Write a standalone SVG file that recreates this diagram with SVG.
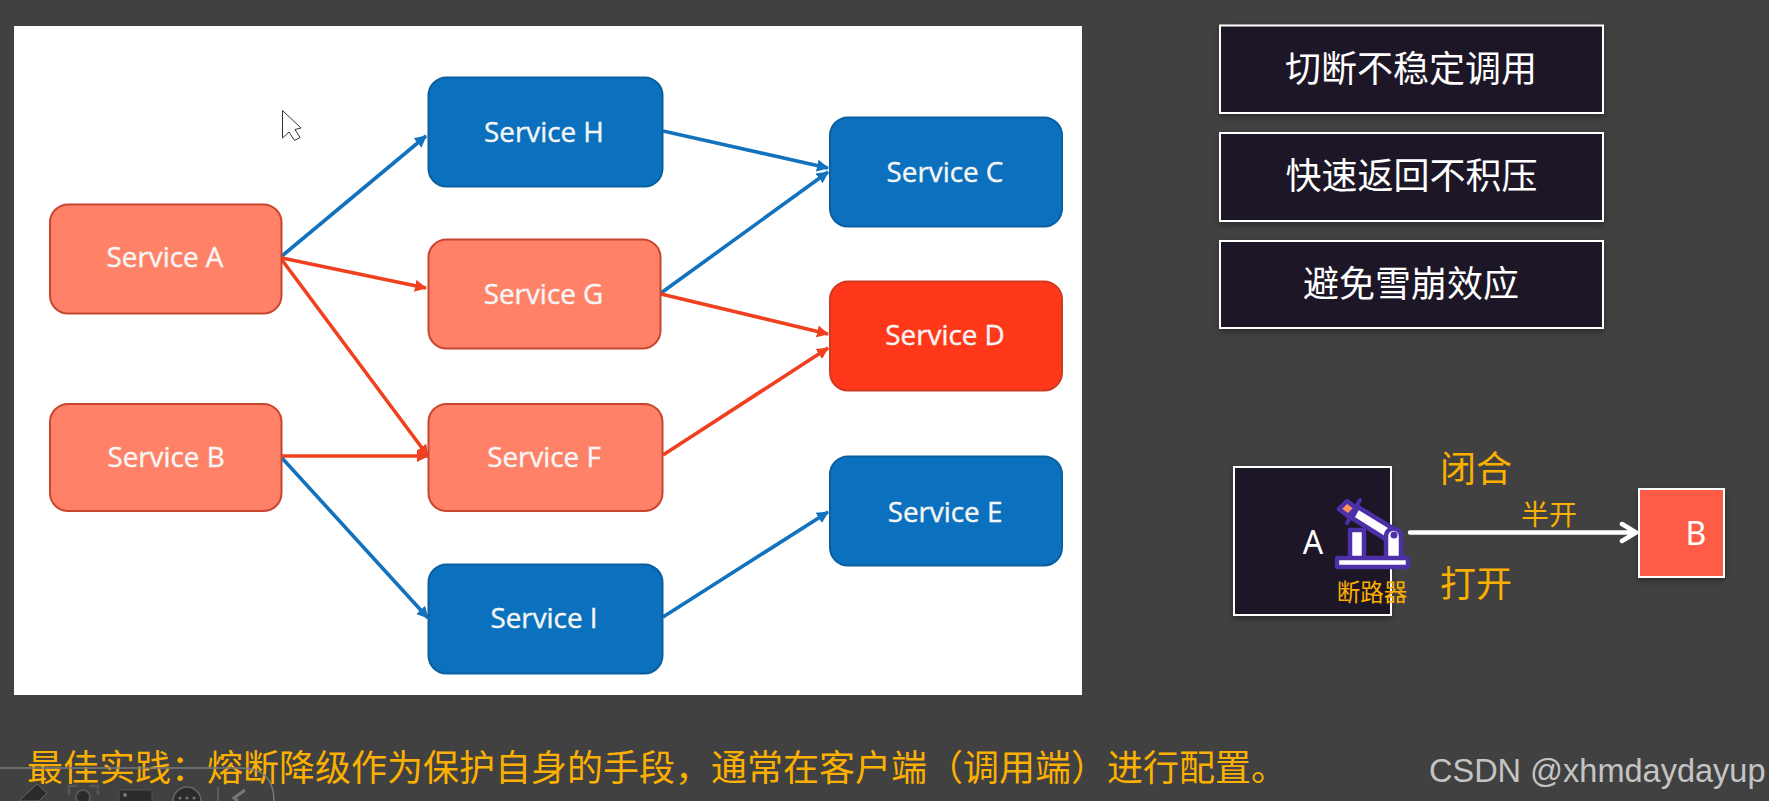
<svg xmlns="http://www.w3.org/2000/svg" width="1769" height="801" viewBox="0 0 1769 801">
<style>
.n{stroke-width:2}
.o{fill:#ff8268;stroke:#c8452f}
.b{fill:#0b70bd;stroke:#0a5f9f}
.r{fill:#ff3819;stroke:#cf3a20}
.s{font:500 27.800px "Open Sans","Noto Sans",sans-serif;fill:#f6f6f6;stroke:#f6f6f6;stroke-width:.4;text-anchor:middle}
.e{fill:none;stroke-width:3.600}
.eb{stroke:#1272bd}
.er{stroke:#f0401f}
.c{font-family:"Noto Sans CJK SC","Liberation Sans",sans-serif;text-anchor:middle}
.w{font-size:36px;fill:#fff}
.y{fill:#fbb000}
.box{fill:#1e1228;stroke:#fff;stroke-width:2}
.l{font-family:"Noto Sans",sans-serif;font-size:32px;fill:#fff;text-anchor:middle}
.i{fill:#fff;stroke:#4d2fa8;stroke-width:4.500;stroke-linejoin:round}
</style>
<defs>
<marker id="ab" markerUnits="userSpaceOnUse" markerWidth="14" markerHeight="14" refX="11" refY="6" orient="auto"><path d="M0 0L12 6L0 12z" fill="#1272bd"/></marker>
<marker id="ar" markerUnits="userSpaceOnUse" markerWidth="14" markerHeight="14" refX="11" refY="6" orient="auto"><path d="M0 0L12 6L0 12z" fill="#f0401f"/></marker>
<filter id="sh" x="-10%" y="-10%" width="120%" height="125%"><feDropShadow dx="0" dy="3" stdDeviation="3" flood-color="#000" flood-opacity=".35"/></filter>
</defs>
<rect width="1769" height="801" fill="#414141"/>
<rect x="14" y="26" width="1068" height="669" fill="#fff"/>
<path d="M282.500 110.500V138L289 132L294.500 140.500L300 137.500L295 129.500L301 128z" fill="#fff" stroke="#333" stroke-width="1"/>
<g id="connectors">
<path class="e eb" marker-end="url(#ab)" d="M282 256L426 136"/>
<path class="e er" marker-end="url(#ar)" d="M282 258L426 288"/>
<path class="e er" marker-end="url(#ar)" d="M282 260L428 456"/>
<path class="e er" marker-end="url(#ar)" d="M282 456L428 456"/>
<path class="e eb" marker-end="url(#ab)" d="M282 458L428 618"/>
<path class="e eb" marker-end="url(#ab)" d="M663 131L828 168"/>
<path class="e eb" marker-end="url(#ab)" d="M661 293L828 172"/>
<path class="e er" marker-end="url(#ar)" d="M661 294L828 334"/>
<path class="e er" marker-end="url(#ar)" d="M663 455L828 348"/>
<path class="e eb" marker-end="url(#ab)" d="M663 617L828 512"/>
</g>
<g id="service-a"><rect class="n o" x="50" y="204.500" width="231.500" height="109" rx="18"/><text class="s" x="165" y="267">Service A</text></g>
<g id="service-b"><rect class="n o" x="50" y="404" width="231.500" height="107" rx="18"/><text class="s" x="166" y="467">Service B</text></g>
<g id="service-h"><rect class="n b" x="428.500" y="77.500" width="234" height="109" rx="18"/><text class="s" x="544" y="142">Service H</text></g>
<g id="service-g"><rect class="n o" x="428.500" y="239.500" width="232" height="109" rx="18"/><text class="s" x="543.500" y="304">Service G</text></g>
<g id="service-f"><rect class="n o" x="428.500" y="404" width="234" height="107" rx="18"/><text class="s" x="544" y="467">Service F</text></g>
<g id="service-i"><rect class="n b" x="428.500" y="564.500" width="234" height="109" rx="18"/><text class="s" x="544" y="628">Service I</text></g>
<g id="service-c"><rect class="n b" x="830" y="117.500" width="232" height="109" rx="18"/><text class="s" x="945" y="182">Service C</text></g>
<g id="service-d"><rect class="n r" x="830" y="281.500" width="232" height="109" rx="18"/><text class="s" x="945" y="345">Service D</text></g>
<g id="service-e"><rect class="n b" x="830" y="456.500" width="232" height="109" rx="18"/><text class="s" x="945" y="522">Service E</text></g>
<g id="box1"><rect class="box" filter="url(#sh)" x="1220" y="25.500" width="383" height="87.500"/><text class="c w" x="1411" y="82">切断不稳定调用</text></g>
<g id="box2"><rect class="box" filter="url(#sh)" x="1220" y="133" width="383" height="88"/><text class="c w" x="1411.500" y="189">快速返回不积压</text></g>
<g id="box3"><rect class="box" filter="url(#sh)" x="1220" y="241" width="383" height="87"/><text class="c w" x="1411" y="297">避免雪崩效应</text></g>
<g id="node-a"><rect class="box" filter="url(#sh)" x="1234" y="467" width="157" height="148"/><text class="l" x="1313" y="554">A</text></g>
<g id="node-b"><rect filter="url(#sh)" x="1639" y="489" width="85" height="88" fill="#ff5c47" stroke="#fff" stroke-width="2"/><text class="l" x="1696" y="545">B</text></g>
<g id="breaker">
<path class="i" d="M1358 507L1394 529L1387 540L1352 518z"/>
<path d="M1360 500L1347 523" stroke="#4d2fa8" stroke-width="4" stroke-linecap="round"/>
<path d="M1347 501L1356 508L1348 516L1339 509z" fill="#ff9160" stroke="#4d2fa8" stroke-width="4.500" stroke-linejoin="round"/>
<rect class="i" x="1350" y="530" width="14" height="29"/>
<path class="i" d="M1386 559V536a7.500 7.500 0 0 1 15 0V559z"/>
<circle cx="1394" cy="535" r="3.500" fill="#4d2fa8"/>
<rect x="1337" y="558" width="71" height="9" fill="#fff" stroke="#4d2fa8" stroke-width="4.500" rx="1"/>
</g>
<text class="c y" x="1372" y="601" font-size="23.500">断路器</text>
<g id="link"><path d="M1410 532.500H1636M1622 524L1636 532.500L1622 541" fill="none" stroke="#fff" stroke-width="4.500" stroke-linecap="round" stroke-linejoin="round"/></g>
<text class="c y" x="1476" y="482" font-size="36">闭合</text>
<text class="c y" x="1549" y="525" font-size="28">半开</text>
<text class="c y" x="1476" y="597" font-size="36">打开</text>
<text class="y" x="27" y="781" font-family="Noto Sans CJK SC,sans-serif" font-size="36">最佳实践：熔断降级作为保护自身的手段，通常在客户端（调用端）进行配置。</text>
<text x="1429" y="782" font-family="Liberation Sans,sans-serif" font-size="32.500" fill="#c4c4c4">CSDN @xhmdaydayup</text>
<g id="toolbar" fill="#2b2b2b" stroke="none">
<path d="M0 768H240Q274 768 274 801" fill="none" stroke="#7a7a7a" stroke-width="1.500"/>
<path d="M19 801L37 784L47 793L39 801z" stroke="#666" stroke-width="1"/>
<path d="M69 795V786H78M89 786H98V795" fill="none" stroke="#555" stroke-width="2.500"/>
<circle cx="83" cy="797" r="7" stroke="#555" stroke-width="2"/>
<path d="M119 801V790H152V801" stroke="#555" stroke-width="1"/>
<circle cx="125" cy="795" r="2" fill="#777"/>
<circle cx="187" cy="801" r="14" stroke="#666" stroke-width="1.500"/>
<g fill="#777"><circle cx="180" cy="798" r="1.500"/><circle cx="187" cy="798" r="1.500"/><circle cx="194" cy="798" r="1.500"/></g>
<path d="M218 787V801" stroke="#777" stroke-width="1"/>
<path d="M245 790L234 798L238 801" fill="none" stroke="#777" stroke-width="3"/>
</g>
</svg>
